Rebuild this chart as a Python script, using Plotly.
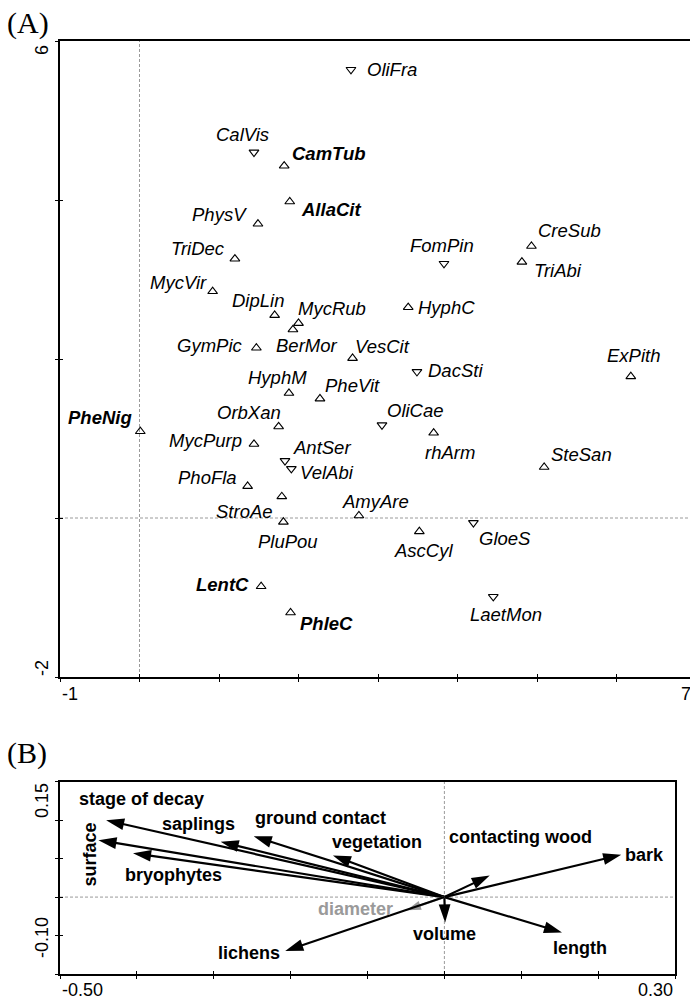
import plotly.graph_objects as go

# ---------------- Panel A: species scores on the first two ordination axes ----------------
species = ["OliFra", "CalVis", "CamTub", "AllaCit", "PhysV", "TriDec", "MycVir", "DipLin",
           "MycRub", "BerMor", "HyphC", "GymPic", "VesCit", "DacSti", "ExPith", "HyphM",
           "PheVit", "OliCae", "OrbXan", "PheNig", "rhArm", "MycPurp", "AntSer", "SteSan",
           "VelAbi", "PhoFla", "StroAe", "AmyAre", "PluPou", "GloeS", "AscCyl", "LentC",
           "LaetMon", "PhleC", "FomPin", "CreSub", "TriAbi"]
axis1 = [2.66, 1.44, 1.82, 1.89, 1.49, 1.20, 0.92, 1.70,
         2.00, 1.93, 3.38, 1.47, 2.68, 3.49, 6.18, 1.88,
         2.27, 3.05, 1.75, 0.01, 3.70, 1.44, 1.83, 5.09,
         1.91, 1.36, 1.79, 2.76, 1.81, 4.20, 3.52, 1.53,
         4.45, 1.90, 3.83, 4.93, 4.81]
axis2 = [5.64, 4.60, 4.43, 3.98, 3.70, 3.26, 2.85, 2.55,
         2.45, 2.37, 2.65, 2.14, 2.01, 1.84, 1.78, 1.57,
         1.50, 1.17, 1.15, 1.09, 1.07, 0.93, 0.72, 0.64,
         0.62, 0.40, 0.27, 0.03, -0.05, -0.06, -0.17, -0.86,
         -0.99, -1.19, 3.20, 3.42, 3.22]
# species drawn with a downward triangle; all others use an upward triangle
down_species = ["OliFra", "CalVis", "FomPin", "DacSti", "OliCae", "AntSer", "VelAbi",
                "GloeS", "LaetMon"]
# species whose names are set in bold
bold_species = ["CamTub", "AllaCit", "PheNig", "LentC", "PhleC"]

a_xrange = (-1, 7)
a_yrange = (-2, 6)
a_xtick_labels = ["-1", "7"]
a_ytick_labels = ["-2", "6"]

# ---------------- Panel B: environmental variables (biplot arrows) ----------------
variables = ["stage of decay", "surface", "bryophytes", "saplings", "ground contact",
             "vegetation", "contacting wood", "bark", "length", "volume", "diameter", "lichens"]
var_x = [-0.440, -0.450, -0.405, -0.291, -0.248, -0.145, 0.059, 0.230, 0.153, 0.001, -0.049, -0.207]
var_y = [0.100, 0.074, 0.057, 0.072, 0.079, 0.054, 0.028, 0.055, -0.046, -0.033, -0.017, -0.070]
supplementary = ["diameter"]

b_xrange = (-0.50, 0.30)
b_yrange = (-0.10, 0.15)
b_xtick_labels = ["-0.50", "0.30"]
b_ytick_labels = ["-0.10", "0.15"]

# ---------------- page geometry (pixels) ----------------
W, H = 690, 1001
A_L, A_T, A_B, A_UNIT = 60, 41, 677, 79.5     # panel A frame, px per axis unit
B_L, B_R, B_T, B_B = 60, 675, 781.7, 974      # panel B frame


def px_x(p):
    return p / W


def px_y(p):
    return 1 - p / H


SANS = "Liberation Sans, Arial, sans-serif"
SERIF = "Liberation Serif, Times New Roman, serif"

# label offsets from the mark, in screen pixels (dx right, dy down)
label_offsets = {
    "OliFra": (41, 0), "CalVis": (-11, -18), "CamTub": (45, -12), "AllaCit": (41, 8),
    "PhysV": (-38, -9), "TriDec": (-37, -10), "MycVir": (-34, -9), "DipLin": (-17, -15),
    "MycRub": (33, -15), "BerMor": (14, 16), "HyphC": (38, 0), "GymPic": (-46, -2),
    "VesCit": (30, -12), "DacSti": (39, -1), "ExPith": (3, -21), "HyphM": (-11, -16),
    "PheVit": (33, -13), "OliCae": (34, -14), "OrbXan": (-30, -14), "PheNig": (-40, -14),
    "rhArm": (16, 20), "MycPurp": (-48, -4), "AntSer": (37, -13), "SteSan": (37, -13),
    "VelAbi": (36, 4), "PhoFla": (-40, -9), "StroAe": (-37, 15), "AmyAre": (17, -14),
    "PluPou": (5, 20), "GloeS": (32, 16), "AscCyl": (4, 19), "LentC": (-39, -2),
    "LaetMon": (13, 18), "PhleC": (36, 11), "FomPin": (-2, -18), "CreSub": (38, -16),
    "TriAbi": (36, 8),
}
var_label_offsets = {
    "stage of decay": (35, -21), "surface": (-8, 14), "bryophytes": (40, 22),
    "saplings": (-22, -18), "ground contact": (67, -18), "vegetation": (44, -14),
    "contacting wood": (31, -39), "bark": (23, 0), "length": (18, 16),
    "volume": (-1, 12), "diameter": (-51, -1), "lichens": (-36, 2),
}

fig = go.Figure()

# species marks
for sym, group in (("triangle-up-open", False), ("triangle-down-open", True)):
    xs = [x for s, x in zip(species, axis1) if (s in down_species) == group]
    ys = [y for s, y in zip(species, axis2) if (s in down_species) == group]
    fig.add_trace(go.Scatter(
        x=xs, y=ys, mode="markers", xaxis="x", yaxis="y",
        marker=dict(symbol=sym, size=8.5, color="black", line=dict(width=1.1, color="black")),
        showlegend=False, hoverinfo="skip"))

annotations = []
for s, x, y in zip(species, axis1, axis2):
    dx, dy = label_offsets[s]
    txt = f"<b><i>{s}</i></b>" if s in bold_species else f"<i>{s}</i>"
    annotations.append(dict(
        x=x, y=y, xref="x", yref="y", text=txt, showarrow=False,
        xanchor="center", yanchor="middle", xshift=dx, yshift=-dy,
        font=dict(family=SANS, size=18.5, color="black")))

# environmental arrows
for v, x, y in zip(variables, var_x, var_y):
    col = "#9a9a9a" if v in supplementary else "#000000"
    head = 15 if v in supplementary else 19
    fig.add_trace(go.Scatter(
        x=[0, x], y=[0, y], mode="lines+markers", xaxis="x2", yaxis="y2",
        line=dict(color=col, width=2.2),
        marker=dict(symbol="arrow", size=[0, head], angleref="previous", color=col,
                    opacity=1, line=dict(width=0)),
        showlegend=False, hoverinfo="skip"))
    dx, dy = var_label_offsets[v]
    annotations.append(dict(
        x=x, y=y, xref="x2", yref="y2", text=f"<b>{v}</b>", showarrow=False,
        xanchor="center", yanchor="middle", xshift=dx, yshift=-dy,
        textangle=-90 if v == "surface" else 0,
        font=dict(family=SANS, size=18, color=col)))

# invisible traces that carry the overlay axes (inner halves of the tick marks)
fig.add_trace(go.Scatter(x=[None], y=[None], xaxis="x3", yaxis="y3", showlegend=False,
                         hoverinfo="skip"))
fig.add_trace(go.Scatter(x=[None], y=[None], xaxis="x4", yaxis="y4", showlegend=False,
                         hoverinfo="skip"))

# panel letters
annotations.append(dict(x=px_x(5), y=px_y(23), xref="paper", yref="paper", text="(A)",
                        showarrow=False, xanchor="left", yanchor="middle",
                        font=dict(family=SERIF, size=30, color="black")))
annotations.append(dict(x=px_x(5), y=px_y(753), xref="paper", yref="paper", text="(B)",
                        showarrow=False, xanchor="left", yanchor="middle",
                        font=dict(family=SERIF, size=30, color="black")))

# end-of-axis tick labels
tick_font = dict(family=SANS, size=18, color="black")
annotations += [
    dict(x=px_x(A_L), y=px_y(694), xref="paper", yref="paper", text=a_xtick_labels[0],
         showarrow=False, xanchor="left", yanchor="middle", font=tick_font),
    dict(x=px_x(A_L + (a_xrange[1] - a_xrange[0]) * A_UNIT - 3), y=px_y(694), xref="paper",
         yref="paper", text=a_xtick_labels[1], showarrow=False, xanchor="right",
         yanchor="middle", font=tick_font),
    dict(x=px_x(42), y=px_y(668), xref="paper", yref="paper", text=a_ytick_labels[0],
         showarrow=False, xanchor="center", yanchor="middle", textangle=-90, font=tick_font),
    dict(x=px_x(42), y=px_y(50), xref="paper", yref="paper", text=a_ytick_labels[1],
         showarrow=False, xanchor="center", yanchor="middle", textangle=-90, font=tick_font),
    dict(x=px_x(B_L), y=px_y(990), xref="paper", yref="paper", text=b_xtick_labels[0],
         showarrow=False, xanchor="left", yanchor="middle", font=tick_font),
    dict(x=px_x(B_R), y=px_y(990), xref="paper", yref="paper", text=b_xtick_labels[1],
         showarrow=False, xanchor="right", yanchor="middle", font=tick_font),
    dict(x=px_x(42), y=px_y(938), xref="paper", yref="paper", text=b_ytick_labels[0],
         showarrow=False, xanchor="center", yanchor="middle", textangle=-90, font=tick_font),
    dict(x=px_x(42), y=px_y(801), xref="paper", yref="paper", text=b_ytick_labels[1],
         showarrow=False, xanchor="center", yanchor="middle", textangle=-90, font=tick_font),
]

# dashed zero lines
dash = dict(color="#9a9a9a", width=1, dash="3px,2px")
shapes = [
    dict(type="line", xref="x", yref="y domain", x0=0, x1=0, y0=0, y1=1, line=dash, layer="below"),
    dict(type="line", xref="x domain", yref="y", x0=0, x1=1, y0=0, y1=0, line=dash, layer="below"),
    dict(type="line", xref="x2", yref="y2 domain", x0=0, x1=0, y0=0, y1=1, line=dash, layer="below"),
    dict(type="line", xref="x2 domain", yref="y2", x0=0, x1=1, y0=0, y1=0, line=dash, layer="below"),
]

a_x_visible_max = a_xrange[0] + (W - A_L) / A_UNIT
axis_common = dict(showgrid=False, zeroline=False, showticklabels=False,
                   tickcolor="black", tickwidth=1.4, fixedrange=True)

fig.update_layout(
    width=W, height=H, margin=dict(l=0, r=0, t=0, b=0),
    paper_bgcolor="white", plot_bgcolor="white",
    xaxis=dict(domain=[px_x(A_L), 1], range=[a_xrange[0], a_x_visible_max], anchor="y",
               tickmode="linear", tick0=a_xrange[0], dtick=1, ticks="outside", ticklen=3,
               showline=True, linecolor="black", linewidth=1.8, mirror=True, **axis_common),
    yaxis=dict(domain=[px_y(A_B), px_y(A_T)], range=list(a_yrange), anchor="x",
               tickmode="linear", tick0=a_yrange[0], dtick=2, ticks="outside", ticklen=3,
               showline=True, linecolor="black", linewidth=1.8, mirror=False, **axis_common),
    xaxis3=dict(overlaying="x", range=[a_xrange[0], a_x_visible_max], anchor="y3",
                tickmode="linear", tick0=a_xrange[0], dtick=1, ticks="inside", ticklen=3,
                showline=False, **axis_common),
    yaxis3=dict(overlaying="y", range=list(a_yrange), anchor="x3", side="left",
                tickmode="linear", tick0=a_yrange[0], dtick=2, ticks="inside", ticklen=3,
                showline=False, **axis_common),
    xaxis2=dict(domain=[px_x(B_L), px_x(B_R)], range=list(b_xrange), anchor="y2",
                tickmode="linear", tick0=b_xrange[0], dtick=0.1, ticks="outside", ticklen=3,
                showline=True, linecolor="black", linewidth=1.8, mirror=True, **axis_common),
    yaxis2=dict(domain=[px_y(B_B), px_y(B_T)], range=list(b_yrange), anchor="x2",
                tickmode="linear", tick0=b_yrange[0], dtick=0.05, ticks="outside", ticklen=3,
                showline=True, linecolor="black", linewidth=1.8, mirror=True, **axis_common),
    xaxis4=dict(overlaying="x2", range=list(b_xrange), anchor="y4",
                tickmode="linear", tick0=b_xrange[0], dtick=0.1, ticks="inside", ticklen=3,
                showline=False, **axis_common),
    yaxis4=dict(overlaying="y2", range=list(b_yrange), anchor="x4", side="left",
                tickmode="linear", tick0=b_yrange[0], dtick=0.05, ticks="inside", ticklen=3,
                showline=False, **axis_common),
    annotations=annotations, shapes=shapes, showlegend=False,
)

fig.write_html("out.html")
